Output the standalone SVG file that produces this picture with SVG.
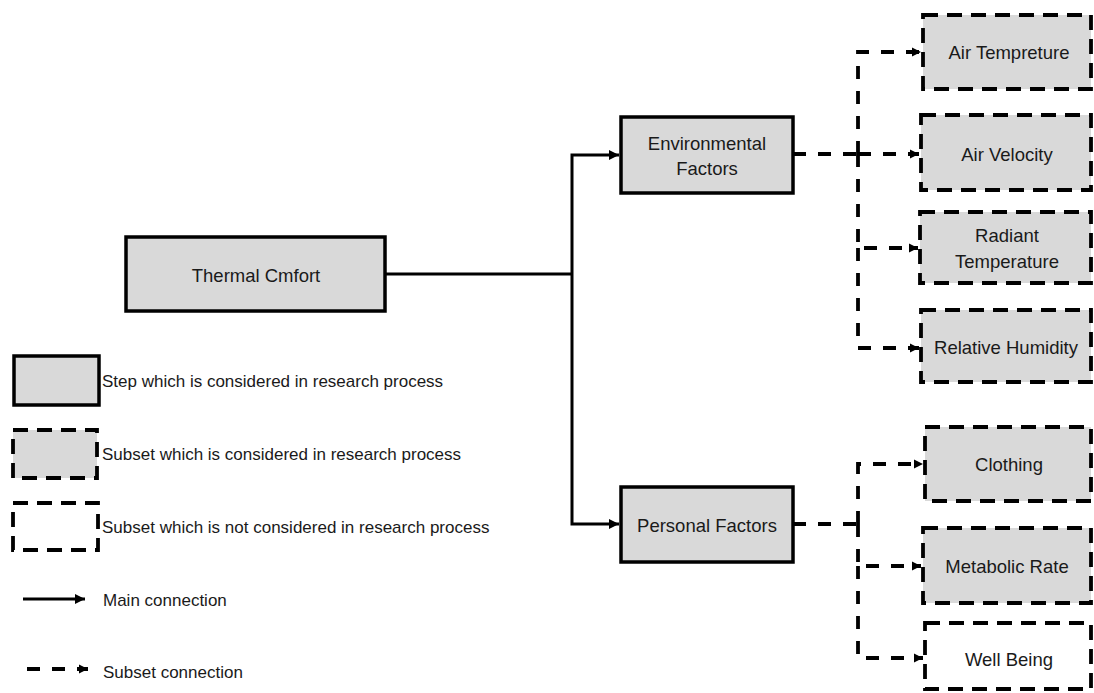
<svg xmlns="http://www.w3.org/2000/svg" width="1094" height="693" viewBox="0 0 1094 693">
<defs>
<marker id="arr" markerWidth="10" markerHeight="10" refX="10" refY="5" orient="auto" markerUnits="userSpaceOnUse"><path d="M0,0 L10,5 L0,10 Z" fill="#000"/></marker>
<marker id="arrs" markerWidth="9" markerHeight="10" refX="9" refY="5" orient="auto" markerUnits="userSpaceOnUse"><path d="M0,0.5 L9,5 L0,9.5 Z" fill="#000"/></marker>
<style>
.step{fill:#d9d9d9;stroke:#000;stroke-width:3.5}
.sub{fill:#d9d9d9;stroke:#000;stroke-width:3.8;stroke-dasharray:15 9}
.nsub{fill:#fff;stroke:#000;stroke-width:3.8;stroke-dasharray:15 9}
.main{fill:none;stroke:#000;stroke-width:3}
.dash{fill:none;stroke:#000;stroke-width:3.8;stroke-dasharray:13 12}
text{font-family:"Liberation Sans",Arial,sans-serif;font-size:18.5px;fill:#1a1a1a}
.c{text-anchor:middle;dominant-baseline:central}
.l{dominant-baseline:central;font-size:17px}
</style>
</defs>
<rect width="1094" height="693" fill="#fff"/>
<g id="connectors">
<path class="main" d="M385,274 H572"/>
<path class="main" d="M572,274 V155 H619" marker-end="url(#arr)"/>
<path class="main" d="M572,274 V524 H619" marker-end="url(#arr)"/>
<path class="dash" d="M793,154 H858"/>
<path class="dash" d="M858,154 H919" marker-end="url(#arrs)"/>
<path class="dash" d="M858,154 V52 H921" marker-end="url(#arrs)"/>
<path class="dash" d="M858,154 V248 H918" marker-end="url(#arrs)"/>
<path class="dash" d="M858,248 V348 H919" marker-end="url(#arrs)"/>
<path class="dash" d="M793,524 H858"/>
<path class="dash" d="M858,524 V464 H923" marker-end="url(#arrs)"/>
<path class="dash" d="M858,524 V566 H921" marker-end="url(#arrs)"/>
<path class="dash" d="M858,566 V658 H923" marker-end="url(#arrs)"/>
</g>
<g id="thermal-comfort"><rect class="step" x="126" y="237" width="259" height="74"/><text class="c" x="256" y="275">Thermal Cmfort</text></g>
<g id="environmental-factors"><rect class="step" x="621" y="117" width="172" height="76"/><text class="c" x="707" y="143">Environmental</text><text class="c" x="707" y="168">Factors</text></g>
<g id="personal-factors"><rect class="step" x="621" y="487" width="172" height="75"/><text class="c" x="707" y="525">Personal Factors</text></g>
<g id="air-tempreture"><rect class="sub" x="923" y="15" width="168" height="74"/><text class="c" x="1009" y="52">Air Tempreture</text></g>
<g id="air-velocity"><rect class="sub" x="921" y="115" width="170" height="75"/><text class="c" x="1007" y="154">Air Velocity</text></g>
<g id="radiant-temperature"><rect class="sub" x="920" y="212" width="171" height="71"/><text class="c" x="1007" y="235">Radiant</text><text class="c" x="1007" y="261">Temperature</text></g>
<g id="relative-humidity"><rect class="sub" x="921" y="310" width="170" height="72"/><text class="c" x="1006" y="347">Relative Humidity</text></g>
<g id="clothing"><rect class="sub" x="925" y="427" width="166" height="74"/><text class="c" x="1009" y="464">Clothing</text></g>
<g id="metabolic-rate"><rect class="sub" x="923" y="528" width="168" height="75"/><text class="c" x="1007" y="566">Metabolic Rate</text></g>
<g id="well-being"><rect class="nsub" x="925" y="623" width="166" height="66"/><text class="c" x="1009" y="659">Well Being</text></g>
<g id="legend">
<rect class="step" x="14" y="356" width="85" height="49"/>
<text class="l" x="102" y="381">Step which is considered in research process</text>
<rect class="sub" x="13" y="430" width="84" height="48"/>
<text class="l" x="102" y="454">Subset which is considered in research process</text>
<rect class="nsub" x="13" y="503" width="85" height="47"/>
<text class="l" x="102" y="527">Subset which is not considered in research process</text>
<path class="main" d="M23,599 H85" marker-end="url(#arr)"/>
<text class="l" x="103" y="600">Main connection</text>
<path class="dash" d="M27,669 H88" marker-end="url(#arrs)"/>
<text class="l" x="103" y="672">Subset connection</text>
</g>
</svg>
